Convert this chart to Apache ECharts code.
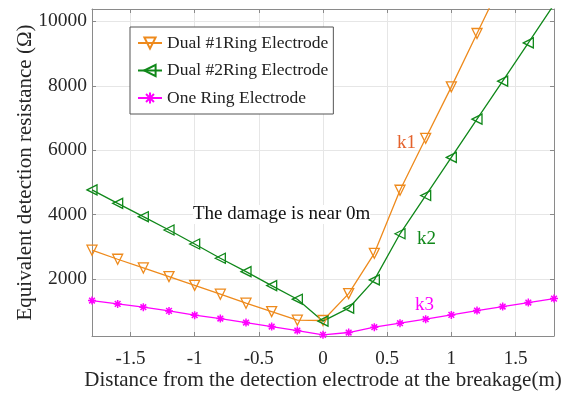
<!DOCTYPE html>
<html>
<head>
<meta charset="utf-8">
<script src="https://cdn.jsdelivr.net/npm/echarts@6/dist/echarts.min.js"></script>
<style>
  html, body { margin: 0; padding: 0; background: #fff; }
  #chart { width: 578px; height: 394px; }
</style>
</head>
<body>
<div id="chart"></div>
<script>
const distance = [-1.8, -1.6, -1.4, -1.2, -1.0, -0.8, -0.6, -0.4, -0.2, 0, 0.2, 0.4, 0.6, 0.8, 1.0, 1.2, 1.4, 1.6, 1.8]
const dual1 = [2900, 2620, 2350, 2080, 1810, 1536, 1257, 995, 730, 720, 1555, 2805, 4760, 6370, 7965, 9620, 11270]
const dual2 = [4770, 4354, 3940, 3527, 3094, 2651, 2236, 1803, 1381, 700, 1102, 1979, 3410, 4595, 5779, 6965, 8142, 9328, 10520]
const oneRing = [1339, 1236, 1133, 1019, 885, 781, 658, 533, 410, 276, 348, 513, 637, 761, 895, 1029, 1153, 1277, 1400]
const xTicks = [-1.5, -1, -0.5, 0, 0.5, 1, 1.5]
const yTicks = [2000, 4000, 6000, 8000, 10000]

const FONT = 'Liberation Serif'
const ORANGE = '#EE8A1C'
const GREEN = '#10881A'
const MAGENTA = '#FF00FF'
const AXIS = '#8a8a8a'

const asterisk = 'path://M0,-10L0,10M-10,0L10,0M-7.1,-7.1L7.1,7.1M-7.1,7.1L7.1,-7.1'

const pairs = (ys) => ys.map((v, i) => [distance[i], v])

const chart = echarts.init(document.getElementById('chart'))

const baseX = {
  type: 'value', min: -1.8, max: 1.8,
  axisLine: { show: true, onZero: false, lineStyle: { color: AXIS, width: 1 } },
  axisTick: { show: true, inside: true, length: 4, customValues: xTicks, lineStyle: { color: AXIS } }
}
const baseY = {
  type: 'value', min: 240, max: 10380,
  axisLine: { show: true, onZero: false, lineStyle: { color: AXIS, width: 1 } },
  axisTick: { show: true, inside: true, length: 4, customValues: yTicks, lineStyle: { color: AXIS } }
}

chart.setOption({
  animation: false,
  grid: { left: 92, right: 24, top: 9, bottom: 58, outerBoundsMode: 'none', containLabel: false },
  legend: {
    orient: 'vertical',
    left: 130, top: 27,
    padding: [7, 5, 7, 7],
    itemWidth: 24, itemHeight: 14, itemGap: 9.5,
    backgroundColor: '#fff',
    borderColor: '#555', borderWidth: 1,
    textStyle: { fontFamily: FONT, fontSize: 17.5, color: '#222' },
    data: ['Dual #1Ring Electrode', 'Dual #2Ring Electrode', 'One Ring Electrode']
  },
  xAxis: [
    Object.assign({}, baseX, {
      position: 'bottom',
      name: 'Distance from the detection electrode at the breakage(m)',
      nameLocation: 'middle', nameGap: 34, nameMoveOverlap: false,
      nameTextStyle: { fontFamily: FONT, fontSize: 21, color: '#262626' },
      axisLabel: { customValues: xTicks, margin: 14, fontFamily: FONT, fontSize: 19, color: '#262626' },
      splitLine: { show: true, lineStyle: { color: '#e6e6e6' } }
    }),
    Object.assign({}, baseX, { position: 'top', axisLabel: { show: false }, splitLine: { show: false } })
  ],
  yAxis: [
    Object.assign({}, baseY, {
      position: 'left',
      name: 'Equivalent detection resistance (Ω)',
      nameLocation: 'middle', nameGap: 56, nameMoveOverlap: false,
      nameTextStyle: { fontFamily: FONT, fontSize: 21, color: '#262626' },
      axisLabel: { customValues: yTicks, margin: 5, fontFamily: FONT, fontSize: 19.5, color: '#262626', formatter: (v) => String(v) },
      splitLine: { show: true, lineStyle: { color: '#e6e6e6' } }
    }),
    Object.assign({}, baseY, { position: 'right', axisLabel: { show: false }, splitLine: { show: false } })
  ],
  series: [
    {
      name: 'Dual #1Ring Electrode', type: 'line', data: pairs(dual1),
      symbol: 'triangle', symbolRotate: 180, symbolSize: 10,
      lineStyle: { color: ORANGE, width: 1.3 },
      itemStyle: { color: 'rgba(255,255,255,0)', borderColor: ORANGE, borderWidth: 1.3 }
    },
    {
      name: 'Dual #2Ring Electrode', type: 'line', data: pairs(dual2),
      symbol: 'triangle', symbolRotate: 90, symbolSize: 10,
      lineStyle: { color: GREEN, width: 1.3 },
      itemStyle: { color: 'rgba(255,255,255,0)', borderColor: GREEN, borderWidth: 1.3 }
    },
    {
      name: 'One Ring Electrode', type: 'line', data: pairs(oneRing),
      symbol: asterisk, symbolSize: 8,
      lineStyle: { color: MAGENTA, width: 1.3 },
      itemStyle: { color: MAGENTA, borderColor: MAGENTA, borderWidth: 1.5 }
    }
  ],
  graphic: [
    { type: 'text', z: 100, left: 193, top: 205, style: { text: 'The damage is near 0m', fontFamily: FONT, fontSize: 19, fill: '#111', backgroundColor: '#fff' } },
    { type: 'text', z: 100, left: 397, top: 134, style: { text: 'k1', fontFamily: FONT, fontSize: 19, fill: '#E4622C' } },
    { type: 'text', z: 100, left: 417, top: 230, style: { text: 'k2', fontFamily: FONT, fontSize: 19, fill: GREEN } },
    { type: 'text', z: 100, left: 415, top: 296, style: { text: 'k3', fontFamily: FONT, fontSize: 19, fill: MAGENTA } }
  ]
})
</script>
</body>
</html>
